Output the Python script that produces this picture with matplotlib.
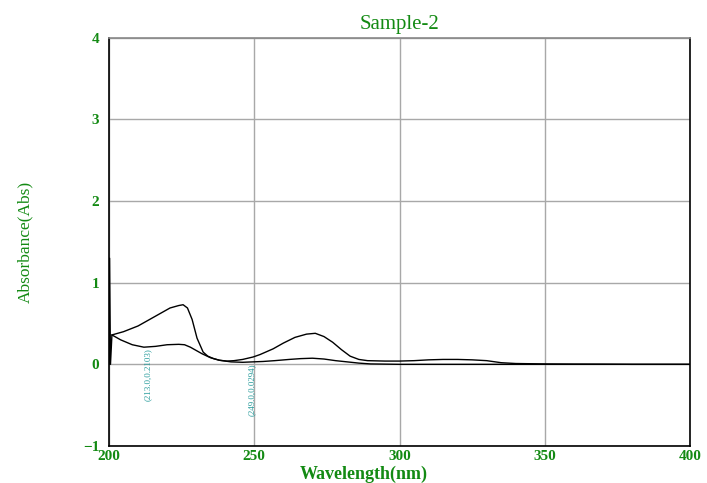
import matplotlib
matplotlib.use("Agg")
import matplotlib.pyplot as plt

# Curve A (higher absorbance)
wl_a = [200, 200.2, 200.5, 201, 205, 210, 214, 218, 221, 224, 225.5, 227, 228.6, 230.3, 232.4, 234, 236, 238,
        240.6, 243, 246, 249.6, 252, 256.5, 260, 264, 268, 271, 274, 277, 280, 283, 286, 289, 295,
        300, 305, 310, 315, 320, 325, 330, 335, 340, 350, 360, 370, 380, 390, 400]
abs_a = [0.0, 1.3, 0.0, 0.36, 0.40, 0.47, 0.55, 0.63, 0.69, 0.72, 0.73, 0.69, 0.55, 0.32, 0.15, 0.10, 0.07, 0.05,
         0.04, 0.045, 0.06, 0.09, 0.12, 0.19, 0.26, 0.33, 0.37, 0.38, 0.34, 0.27, 0.18, 0.10, 0.06, 0.045, 0.04,
         0.04, 0.045, 0.055, 0.06, 0.06, 0.055, 0.045, 0.02, 0.01, 0.005, 0.003, 0.002, 0.0, 0.0, 0.0]

# Curve B (lower absorbance)
wl_b = [201, 204, 208, 212, 216, 220, 224, 226, 228, 230, 232, 235, 238, 242, 246, 249, 253, 257,
        262, 266, 270, 274, 278, 282, 286, 290, 300, 320, 340, 360, 380, 400]
abs_b = [0.36, 0.30, 0.24, 0.21, 0.22, 0.24, 0.245, 0.24, 0.21, 0.17, 0.13, 0.08, 0.05, 0.03, 0.025, 0.0294,
         0.035, 0.045, 0.06, 0.07, 0.075, 0.065, 0.045, 0.03, 0.015, 0.005, 0.0, 0.0, 0.0, 0.0, 0.0, 0.0]

# Peak / valley annotations
ann_x = [213.0, 249.0]
ann_y = [0.2103, 0.0294]
ann_text = ["(213.0,0.2103)", "(249.0,0.0294)"]

x_ticks = [200, 250, 300, 350, 400]
y_ticks = [-1, 0, 1, 2, 3, 4]

green = "#138a13"
teal = "#2a9d9d"
serif = ["Liberation Serif", "DejaVu Serif"]

fig = plt.figure(figsize=(7.07, 4.83), dpi=100)
ax = fig.add_axes([0.1542, 0.0766, 0.8218, 0.8454])

ax.plot(wl_a, abs_a, color="black", lw=1.0)
ax.plot(wl_b, abs_b, color="black", lw=1.0)

ax.set_xlim(200, 400)
ax.set_ylim(-1, 4)
ax.set_xticks(x_ticks)
ax.set_yticks(y_ticks)
ax.grid(True, color="#a8a8a8", lw=1.0)
ax.tick_params(axis="x", length=0, pad=3, colors=green)
ax.tick_params(axis="y", length=0, pad=7, colors=green)
for lab in ax.get_xticklabels() + ax.get_yticklabels():
    lab.set_family(serif)
    lab.set_fontsize(11)
    lab.set_fontweight("bold")
    lab.set_color(green)

for s in ["left", "bottom", "right"]:
    ax.spines[s].set_color("black")
    ax.spines[s].set_linewidth(1.2)
ax.spines["top"].set_color("#888888")
ax.spines["top"].set_linewidth(1.2)

for x, y, t in zip(ann_x, ann_y, ann_text):
    ax.text(x + 0.2, y - 0.012, t, rotation=90, ha="center", va="top",
            fontsize=6.5, color=teal, family=serif)

ax.set_title("Sample-2", family=serif, fontsize=15, color=green, pad=6)
ax.set_xlabel("Wavelength(nm)", family=serif, fontsize=13, fontweight="bold", color=green)
ax.xaxis.set_label_coords((364 - 109) / 581, (446 - 474.5) / 408, transform=ax.transAxes)
ax.xaxis.label.set_va("center")
ax.set_ylabel("Absorbance(Abs)", family=serif, fontsize=12.5, color=green)
ax.yaxis.set_label_coords((25 - 109) / 581, 0.5, transform=ax.transAxes)
ax.yaxis.label.set_va("center")

fig.savefig("out.png", dpi=100)
